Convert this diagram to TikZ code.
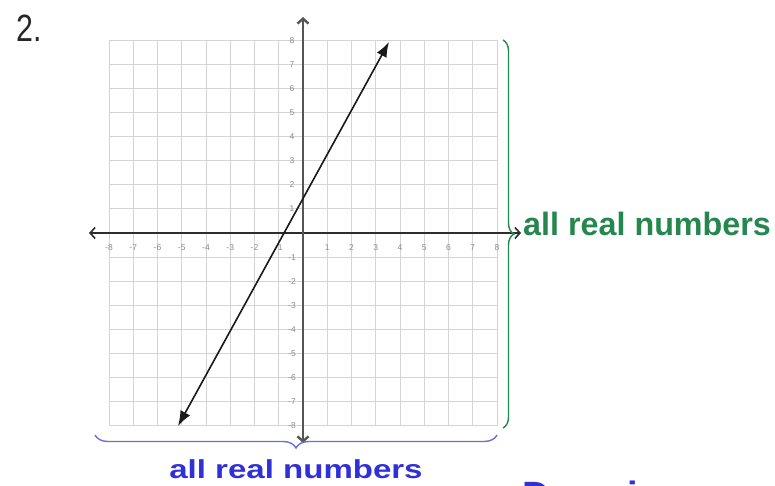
\documentclass[tikz,border=0pt]{standalone}
\usepackage{fontspec}
\setmainfont{Liberation Sans}
\usetikzlibrary{arrows.meta,decorations.pathreplacing}
\definecolor{gridc}{RGB}{212,212,212}
\definecolor{tickc}{RGB}{140,140,140}
\definecolor{greenc}{RGB}{38,135,78}
\definecolor{bluec}{RGB}{48,48,215}
\definecolor{bracebl}{RGB}{110,110,215}
\definecolor{axisc}{RGB}{45,45,45}
\definecolor{yaxisc}{RGB}{85,85,85}
\begin{document}
\begin{tikzpicture}[x=1pt,y=-1pt,
  gridline/.style={gridc, line width=0.9pt},
  ticklab/.style={text=tickc, font=\fontsize{8.5}{9}\selectfont, inner sep=0pt},
  axisline/.style={axisc, line width=1.6pt, {Straight Barb[length=5pt,width=11pt]}-{Straight Barb[length=5pt,width=11pt]}},
  yaxisline/.style={yaxisc, line width=2.4pt, {Straight Barb[length=5pt,width=11pt]}-{Straight Barb[length=5pt,width=11pt]}},
  graphline/.style={black!90, line width=1.6pt, {Latex[length=15pt,width=11pt]}-{Latex[length=15pt,width=11pt]}},
  bigtext/.style={anchor=base west, inner sep=0pt, font=\bfseries\fontsize{32.3}{36}\selectfont}
]
\useasboundingbox (0,0) rectangle (775,486);
\clip (0,0) rectangle (775,486);
\fill[white] (0,0) rectangle (775,486);

% grid and ticks
\begin{scope}[shift={(303,233)}, x=24.25pt, y=24.1pt]
  \draw[gridline, step=1] (-8,-8) grid (8,8);
  \foreach \i in {-8,...,-1,1,2,...,8} {
    \node[ticklab] (xl\i) at (\i,-0.62) {\i};
    \node[ticklab] (yl\i) at (-0.45,\i) {\i};
  }
\end{scope}

% named end points
\coordinate (xL) at (89,233);
\coordinate (xR) at (521,233);
\coordinate (yT) at (303,17);
\coordinate (yB) at (303,443);
\coordinate (lA) at (178,426);
\coordinate (lB) at (389,42);

\draw[axisline] (xL) -- (xR);
\draw[yaxisline] (yB) -- (yT);
\draw[graphline] (lA) -- (lB);

% braces
\coordinate (gbT) at (503,40);
\coordinate (gbB) at (503,428);
\draw[greenc, line width=1.4pt, decorate, decoration={brace, amplitude=11pt}] (gbT) -- (gbB);
\coordinate (bbR) at (497,435);
\coordinate (bbL) at (95,435);
\draw[bracebl, line width=1.4pt, decorate, decoration={brace, amplitude=13pt}] (bbR) -- (bbL);

% texts
\node[bigtext, text=greenc] (rangeT) at (523,235) {all real numbers};
\node[anchor=base, inner sep=0pt, text=bluec, font=\bfseries\fontsize{26}{30}\selectfont] (domT) at (296,478) {\scalebox{1.27}[1]{all real numbers}};
\node[anchor=base west, inner sep=0pt, text=black!85, font=\fontsize{38}{42}\selectfont] (num) at (16,42) {\scalebox{0.8}[1]{2.}};
\node[anchor=base west, inner sep=0pt, text=bluec, font=\bfseries\fontsize{38}{42}\selectfont] (dom) at (522,508) {Domain};
\end{tikzpicture}
\end{document}
